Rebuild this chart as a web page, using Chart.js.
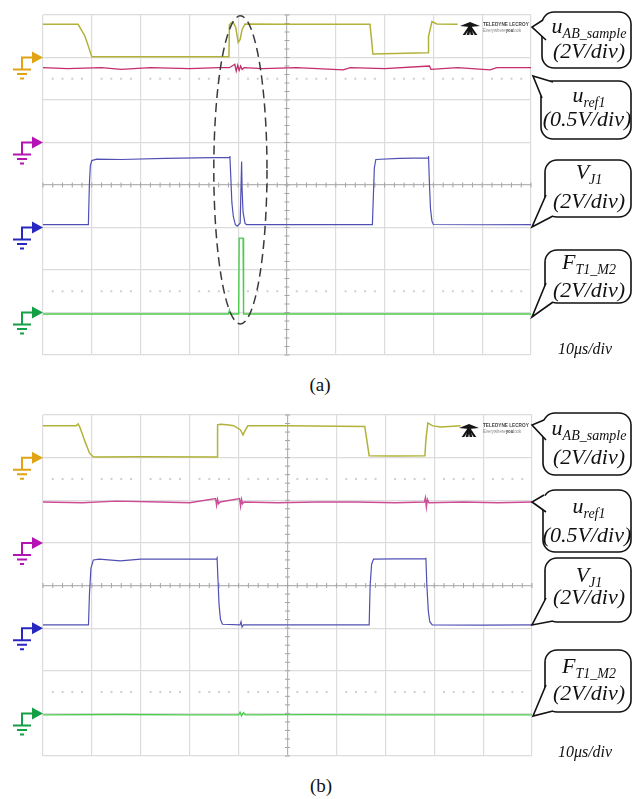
<!DOCTYPE html>
<html>
<head>
<meta charset="utf-8">
<script src="https://cdn.jsdelivr.net/npm/chart.js@4/dist/chart.umd.min.js"></script>
<style>
  html, body { margin: 0; padding: 0; background: #fff; }
  #page { position: relative; width: 632px; height: 799px; overflow: hidden; }
  canvas { position: absolute; left: 0; }
  .lbl { position: absolute; font-family: "Liberation Serif", "DejaVu Serif", serif; font-style: italic; color: #111; white-space: nowrap; text-align: center; }
  .lbl .sub { font-size: 14px; position: relative; top: 5px; }
  .cap { font-style: normal; }
  .logo { position: absolute; font-family: "Liberation Sans", sans-serif; white-space: nowrap; transform: scaleX(0.78); transform-origin: left top; }
</style>
</head>
<body>
<div id="page">
  <canvas id="scopeA" width="632" height="372" style="top:0"></canvas>
  <canvas id="scopeB" width="632" height="372" style="top:400px"></canvas>
</div>
<script>
// channel settings: V/div and ground position (divisions from screen centre)
const voltsPerDiv = [2, 0.5, 2, 2];
const groundDiv = [3, 1, -1, -3];
const groundColors = ['#e0a314', '#b414b4', '#2828c0', '#14a046'];

// ---------- (a) ----------  time in us, values in volts
const tA_uab = [0, 7.2, 8.6, 9.3, 10.0, 20, 30, 38.1, 38.2, 38.9, 39.5, 40.0, 40.4, 40.8, 41.4, 50, 67.0, 67.3, 67.6, 72, 78.9, 79.0, 79.7, 80.7, 85.0];
const vA_uab = [1.56, 1.56, 1.0, 0.53, 0.03, 0.04, 0.03, 0.03, 1.55, 1.69, 1.41, 0.71, 0.85, 1.32, 1.58, 1.56, 1.56, 0.9, 0.17, 0.19, 0.22, 1.0, 1.69, 1.58, 1.56];

const tA_ref = [0, 5, 12, 16, 22, 30, 36, 38.2, 39.3, 39.6, 39.9, 40.2, 40.5, 40.8, 41.2, 45, 52, 61.5, 63, 70, 79.2, 79.5, 85, 91.6, 93, 100];
const vA_ref = [0.88, 0.87, 0.88, 0.86, 0.88, 0.87, 0.88, 0.88, 0.92, 0.84, 0.91, 0.85, 0.90, 0.86, 0.88, 0.87, 0.88, 0.855, 0.88, 0.87, 0.9, 0.86, 0.88, 0.855, 0.88, 0.88];

const tA_vj1 = [0, 9.3, 9.5, 9.7, 10.0, 11.0, 16, 25, 38.2, 38.3, 38.7, 39.0, 39.4, 39.8, 40.4, 40.7, 40.8, 41.0, 41.4, 41.7, 55, 67.5, 67.7, 67.9, 68.2, 73, 78.9, 79.0, 79.2, 79.4, 79.7, 80.0, 90, 100];
const vA_vj1 = [0.14, 0.14, 2.0, 2.9, 3.15, 3.22, 3.2, 3.25, 3.3, 3.36, 1.18, 0.52, 0.14, 0.06, 0.2, 3.1, 1.79, 0.71, 0.19, 0.14, 0.14, 0.14, 1.5, 2.8, 3.2, 3.25, 3.28, 3.36, 2.0, 0.9, 0.3, 0.14, 0.13, 0.14];

const tA_ft1 = [0, 20, 38.0, 38.2, 38.4, 40.1, 40.2, 41.0, 41.1, 60, 100];
const vA_ft1 = [-0.07, -0.07, -0.07, 0.1, -0.07, -0.07, 3.5, 3.5, -0.07, -0.07, -0.07];

// ---------- (b) ----------
const tB_uab = [0, 6.8, 7.2, 7.6, 8.6, 9.5, 10.3, 20, 35.6, 35.7, 36.3, 37.6, 39.0, 40.4, 40.9, 41.4, 41.9, 50, 65.8, 66.7, 72, 78.1, 78.3, 78.7, 79.7, 81.4, 85.4];
const vB_uab = [1.49, 1.5, 1.58, 1.39, 0.75, 0.22, 0.03, 0.04, 0.03, 1.54, 1.57, 1.54, 1.5, 1.3, 1.07, 1.3, 1.49, 1.49, 1.46, 0.09, 0.08, 0.09, 0.83, 1.63, 1.49, 1.44, 1.49];

const tB_ref = [0, 8, 15, 24, 30, 35.3, 35.5, 35.7, 35.9, 36.2, 40.2, 40.4, 40.6, 40.8, 41.1, 48, 56, 64, 72, 78.0, 78.2, 78.4, 78.6, 78.9, 86, 93, 100];
const vB_ref = [0.48, 0.47, 0.49, 0.48, 0.47, 0.52, 0.44, 0.51, 0.46, 0.48, 0.52, 0.43, 0.51, 0.46, 0.48, 0.47, 0.48, 0.48, 0.47, 0.48, 0.53, 0.42, 0.51, 0.47, 0.48, 0.47, 0.48];

const tB_vj1 = [0, 9.3, 9.5, 9.8, 10.3, 11.5, 15.8, 20, 35.5, 35.6, 35.8, 36.0, 36.3, 36.7, 40.3, 40.5, 40.7, 41.0, 55, 66.7, 66.9, 67.2, 67.6, 72, 78.2, 78.3, 78.5, 78.8, 79.1, 79.6, 90, 100];
const vB_vj1 = [0.15, 0.15, 1.6, 2.8, 3.2, 3.24, 3.16, 3.24, 3.24, 3.29, 2.2, 1.1, 0.4, 0.18, 0.15, 0.3, 0.05, 0.15, 0.15, 0.15, 2.0, 3.0, 3.24, 3.25, 3.26, 3.3, 2.0, 0.8, 0.3, 0.15, 0.14, 0.15];

const tB_ft1 = [0, 15, 30, 40.0, 40.3, 40.6, 41.0, 41.4, 55, 70, 100];
const vB_ft1 = [-0.07, -0.05, -0.07, -0.07, 0.05, -0.12, 0.03, -0.07, -0.06, -0.07, -0.07];

function trace(times, volts, ch, color, width) {
  return {
    data: times.map((t, i) => ({ x: t, y: groundDiv[ch] + volts[i] / voltsPerDiv[ch] })),
    borderColor: color, borderWidth: width, pointRadius: 0, tension: 0, fill: false
  };
}

function drawGround(ctx, y, color) {
  ctx.save();
  ctx.strokeStyle = color; ctx.fillStyle = color; ctx.lineWidth = 2;
  ctx.beginPath();
  ctx.moveTo(22, y + 12); ctx.lineTo(22, y); ctx.lineTo(33, y);
  ctx.moveTo(13, y + 12); ctx.lineTo(31, y + 12);
  ctx.moveTo(17, y + 16.5); ctx.lineTo(27, y + 16.5);
  ctx.moveTo(20, y + 21); ctx.lineTo(24, y + 21);
  ctx.stroke();
  ctx.beginPath(); ctx.moveTo(32, y - 6); ctx.lineTo(43, y); ctx.lineTo(32, y + 6); ctx.closePath(); ctx.fill();
  ctx.restore();
}

function drawBubble(ctx, b) {
  const [l, t, r, bt] = b.box;
  ctx.save();
  ctx.lineWidth = 1.6; ctx.strokeStyle = '#111'; ctx.fillStyle = '#fff';
  ctx.beginPath(); ctx.roundRect(l, t, r - l, bt - t, 12); ctx.fill(); ctx.stroke();
  ctx.beginPath();
  ctx.moveTo(b.p1[0], b.p1[1]); ctx.lineTo(b.tip[0], b.tip[1]); ctx.lineTo(b.p2[0], b.p2[1]); ctx.lineTo(b.inner[0], b.inner[1]);
  ctx.closePath(); ctx.fill();
  ctx.beginPath();
  ctx.moveTo(b.p1[0], b.p1[1]); ctx.lineTo(b.tip[0], b.tip[1]); ctx.lineTo(b.p2[0], b.p2[1]);
  ctx.stroke();
  ctx.restore();
}

function drawLogoMark(ctx, cx, cy) {
  ctx.save(); ctx.fillStyle = '#151515';
  ctx.beginPath(); ctx.moveTo(cx - 10, cy - 2); ctx.lineTo(cx, cy - 6); ctx.lineTo(cx + 10, cy - 2); ctx.lineTo(cx, cy - 1); ctx.closePath(); ctx.fill();
  for (const dx of [-6, -2, 2, 6]) {
    ctx.beginPath(); ctx.moveTo(cx - 1.2, cy - 2); ctx.lineTo(cx + 1.2, cy - 2);
    ctx.lineTo(cx + dx + 1.3, cy + 7); ctx.lineTo(cx + dx - 1.3, cy + 7); ctx.closePath(); ctx.fill();
  }
  ctx.restore();
}

const scopeDecor = {
  id: 'scopeDecor',
  beforeDatasetsDraw(chart) {
    const { ctx, scales: { x, y } } = chart;
    ctx.save();
    ctx.strokeStyle = '#a4a4a4'; ctx.lineWidth = 1;
    const yc = y.getPixelForValue(0), xc = x.getPixelForValue(50);
    ctx.beginPath();
    for (let t = 0; t <= 100; t += 2) { const px = x.getPixelForValue(t); ctx.moveTo(px, yc - 2.5); ctx.lineTo(px, yc + 2.5); }
    for (let k = -20; k <= 20; k++) { const py = y.getPixelForValue(k / 5); ctx.moveTo(xc - 2.5, py); ctx.lineTo(xc + 2.5, py); }
    ctx.stroke();
    ctx.fillStyle = '#cfcfcf';
    for (const d of [2.5, -2.5]) {
      for (let t = 2; t < 100; t += 2) {
        if (t % 10 === 0) continue;
        ctx.fillRect(x.getPixelForValue(t) - 1, y.getPixelForValue(d) - 1, 2, 2);
      }
    }
    ctx.restore();
  },
  afterDraw(chart, args, opts) {
    const { ctx, scales: { x, y } } = chart;
    groundDiv.forEach((g, i) => drawGround(ctx, y.getPixelForValue(g), groundColors[i]));
    ctx.save();
    ctx.translate(0, -opts.offsetY);
    opts.bubbles.forEach(b => drawBubble(ctx, b));
    drawLogoMark(ctx, opts.logo[0], opts.logo[1]);
    ctx.restore();
    if (opts.ellipse) {
      const e = opts.ellipse;
      const x0 = x.getPixelForValue(e.t0), x1 = x.getPixelForValue(e.t1);
      const y0 = y.getPixelForValue(e.d1), y1 = y.getPixelForValue(e.d0);
      ctx.save();
      ctx.strokeStyle = '#3a3a3a'; ctx.lineWidth = 1.5; ctx.setLineDash([9, 5]);
      ctx.beginPath();
      ctx.ellipse((x0 + x1) / 2, (y0 + y1) / 2, (x1 - x0) / 2, (y1 - y0) / 2, 0, 0, Math.PI * 2);
      ctx.stroke();
      ctx.restore();
    }
  }
};

function gridColor(centre) {
  return c => (c.tick && c.tick.value === centre) ? '#b4b4b4' : '#dcdcdc';
}

function makeScope(id, datasets, decor, pad) {
  return new Chart(document.getElementById(id), {
    type: 'line',
    data: { datasets },
    options: {
      responsive: false, animation: false, devicePixelRatio: 1,
      layout: { padding: pad },
      plugins: { legend: { display: false }, tooltip: { enabled: false }, scopeDecor: decor },
      scales: {
        x: {
          type: 'linear', min: 0, max: 100,
          ticks: { stepSize: 10, display: false },
          grid: { color: gridColor(50), drawTicks: false, lineWidth: 1.2 },
          border: { display: false },
          afterFit: s => { s.height = 0; }
        },
        y: {
          type: 'linear', min: -4, max: 4,
          ticks: { stepSize: 1, display: false },
          grid: { color: gridColor(0), drawTicks: false, lineWidth: 1.2 },
          border: { display: false },
          afterFit: s => { s.width = 0; }
        }
      }
    },
    plugins: [scopeDecor]
  });
}

makeScope('scopeA', [
  trace(tA_ref, vA_ref, 1, '#c42c6c', 1.3),
  trace(tA_uab, vA_uab, 0, '#b2b23a', 1.5),
  trace(tA_vj1, vA_vj1, 2, '#5050b4', 1.2),
  trace(tA_ft1, vA_ft1, 3, '#4ccc4c', 1.4)
], {
  offsetY: 0,
  logo: [470, 28],
  ellipse: { t0: 35.0, t1: 45.9, d0: -3.27, d1: 3.98 },
  bubbles: [
    { box: [542, 12, 631, 68], tip: [532, 27], p1: [543, 20], p2: [546, 40], inner: [553, 30] },
    { box: [541, 81, 631, 139], tip: [533, 76], p1: [553, 82], p2: [542, 98], inner: [556, 97] },
    { box: [545, 160, 631, 217], tip: [532, 227], p1: [546, 195], p2: [553, 216], inner: [558, 205] },
    { box: [545, 250, 631, 303], tip: [532, 317], p1: [546, 283], p2: [553, 302], inner: [558, 292] }
  ]
}, { left: 43, right: 101, top: 15, bottom: 17 });

makeScope('scopeB', [
  trace(tB_ref, vB_ref, 1, '#cc4c96', 1.4),
  trace(tB_uab, vB_uab, 0, '#b2b23a', 1.5),
  trace(tB_vj1, vB_vj1, 2, '#5050b4', 1.2),
  trace(tB_ft1, vB_ft1, 3, '#4ccc4c', 1.4)
], {
  offsetY: 400,
  logo: [469, 430],
  ellipse: null,
  bubbles: [
    { box: [543, 413, 631, 475], tip: [532, 425], p1: [544, 420], p2: [546, 440], inner: [554, 430] },
    { box: [543, 490, 631, 552], tip: [532, 502], p1: [544, 495], p2: [546, 512], inner: [554, 503] },
    { box: [545, 558, 631, 622], tip: [532, 625], p1: [546, 598], p2: [553, 621], inner: [558, 610] },
    { box: [545, 650, 631, 712], tip: [533, 716], p1: [546, 685], p2: [553, 711], inner: [558, 698] }
  ]
}, { left: 43, right: 100, top: 15, bottom: 16 });

// ---- text ----
const page = document.getElementById('page');
function addLabel(html, cx, baseline, size, cls) {
  const el = document.createElement('div');
  el.className = 'lbl' + (cls ? ' ' + cls : '');
  el.style.fontSize = size + 'px';
  el.style.lineHeight = size + 'px';
  el.style.left = (cx - 60) + 'px';
  el.style.width = '120px';
  el.style.top = (baseline - 0.8375 * size) + 'px';
  el.innerHTML = html;
  page.appendChild(el);
}
function addLogo(left, base1) {
  const a = document.createElement('div');
  a.className = 'logo';
  a.style.cssText = 'left:' + left + 'px;top:' + (base1 - 6) + 'px;font-size:6px;line-height:6px;font-weight:bold;color:#444';
  a.textContent = 'TELEDYNE LECROY';
  page.appendChild(a);
  const b = document.createElement('div');
  b.className = 'logo';
  b.style.cssText = 'left:' + left + 'px;top:' + (base1 + 1) + 'px;font-size:5.5px;line-height:5.5px;color:#888';
  b.innerHTML = 'Everywhere<b style="color:#444">you</b>look';
  page.appendChild(b);
}

const uab = 'u<span class="sub">AB_sample</span>';
const uref = 'u<span class="sub">ref1</span>';
const vj = 'V<span class="sub">J1</span>';
const ft = 'F<span class="sub">T1_M2</span>';

// panel (a)
addLabel(uab, 589, 33, 22); addLabel('(2V/div)', 589, 58, 22);
addLabel(uref, 589, 102, 22); addLabel('(0.5V/div)', 587, 126, 22);
addLabel(vj, 589, 179, 22); addLabel('(2V/div)', 589, 208, 22);
addLabel(ft, 589, 269, 22); addLabel('(2V/div)', 589, 297, 22);
addLabel('10μs/div', 585, 354, 16);
addLabel('(a)', 320, 391, 19, 'cap');
addLogo(483, 27);

// panel (b)
addLabel(uab, 589, 435, 22); addLabel('(2V/div)', 589, 464, 22);
addLabel(uref, 589, 513, 22); addLabel('(0.5V/div)', 587, 542, 22);
addLabel(vj, 589, 582, 22); addLabel('(2V/div)', 589, 604, 22);
addLabel(ft, 589, 673, 22); addLabel('(2V/div)', 589, 700, 22);
addLabel('10μs/div', 585, 757, 16);
addLabel('(b)', 321, 792, 19, 'cap');
addLogo(483, 428);
</script>
</body>
</html>
